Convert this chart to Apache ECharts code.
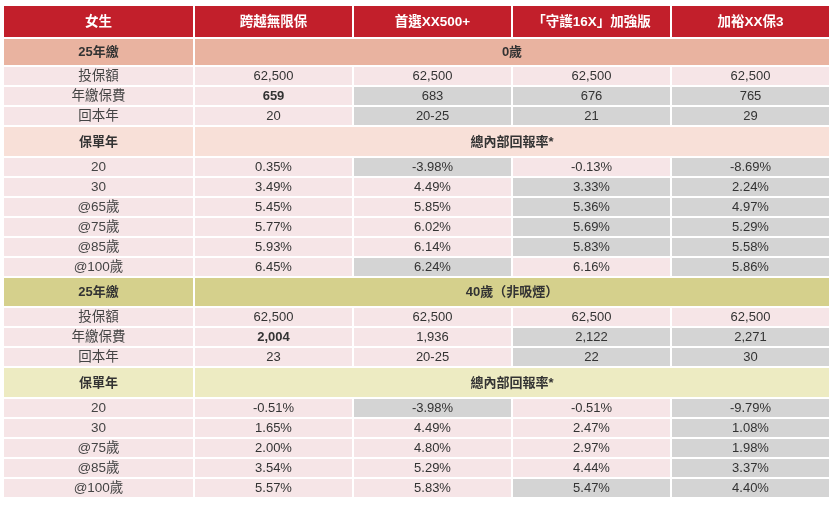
<!DOCTYPE html>
<html><head><meta charset="utf-8">
<script src="https://cdn.jsdelivr.net/npm/echarts@6/dist/echarts.min.js"></script>
<style>html,body{margin:0;padding:0;background:#fff}#c{width:832px;height:506px}</style>
</head><body><div id="c"></div>
<script>
// ---- data ----
const headers = ['女生','跨越無限保','首選XX500+','「守護16X」加強版','加裕XX保3'];
const payTerm = '25年繳';
const ageGroups = ['0歲','40歲（非吸煙）'];
const infoLabels = ['投保額','年繳保費','回本年'];
const irrTitle = '總內部回報率*';
const yearTitle = '保單年';
const info1 = [['62,500','62,500','62,500','62,500'],['659','683','676','765'],['20','20-25','21','29']];
const irrLabels1 = ['20','30','@65歲','@75歲','@85歲','@100歲'];
const irr1 = [['0.35%','-3.98%','-0.13%','-8.69%'],['3.49%','4.49%','3.33%','2.24%'],['5.45%','5.85%','5.36%','4.97%'],
              ['5.77%','6.02%','5.69%','5.29%'],['5.93%','6.14%','5.83%','5.58%'],['6.45%','6.24%','6.16%','5.86%']];
const info2 = [['62,500','62,500','62,500','62,500'],['2,004','1,936','2,122','2,271'],['23','20-25','22','30']];
const irrLabels2 = ['20','30','@75歲','@85歲','@100歲'];
const irr2 = [['-0.51%','-3.98%','-0.51%','-9.79%'],['1.65%','4.49%','2.47%','1.08%'],['2.00%','4.80%','2.97%','1.98%'],
              ['3.54%','5.29%','4.44%','3.37%'],['5.57%','5.83%','5.47%','4.40%']];
// grey (highlighted) cells: [row index in block, column 1..4]
const grey1Info = [[1,2],[1,3],[1,4],[2,2],[2,3],[2,4]];
const grey1Irr = [[0,2],[0,4],[1,3],[1,4],[2,3],[2,4],[3,3],[3,4],[4,3],[4,4],[5,2],[5,4]];
const grey2Info = [[1,3],[1,4],[2,3],[2,4]];
const grey2Irr = [[0,2],[0,4],[1,4],[2,4],[3,4],[4,3],[4,4]];
const boldCells = [['info1',1,1],['info2',1,1]];

// ---- layout (sizes only) ----
const colW = [191,159,159,159,159];
const H = {head:33, sec1:28, row:20, sub:31, sec2:30};
const C = {head:'#c21f2b', sec1:'#e9b3a0', sub1:'#f8e0d8', sec2:'#d5d08c', sub2:'#edebc2', cell:'#f6e5e7', grey:'#d4d4d4'};
const colX = [0]; colW.forEach(w=>colX.push(colX[colX.length-1]+w));
const cells = [];
let y = 0;
function add(c0,c1,h,fill,text,opt){ cells.push([colX[c0],colX[c1],y,y+h,fill,text,opt||{}]); }
function isIn(list,r,c){ return list.some(p=>p[0]===r&&p[1]===c); }
headers.forEach((t,i)=>add(i,i+1,H.head,C.head,t,{color:'#fff',size:13.5,bold:true})); y+=H.head;
function block(secH,age,subFill,secFill,info,gInfo,irrL,irr,gIrr,bkey){
  add(0,1,secH,secFill,payTerm,{bold:true}); add(1,5,secH,secFill,age,{bold:true}); y+=secH;
  infoLabels.forEach((l,r)=>{ add(0,1,H.row,C.cell,l,{color:'#444',size:13.5});
    for(let c=1;c<5;c++) add(c,c+1,H.row,isIn(gInfo,r,c)?C.grey:C.cell,info[r][c-1],{bold:boldCells.some(b=>b[0]===bkey&&b[1]===r&&b[2]===c)});
    y+=H.row; });
  add(0,1,H.sub,subFill,yearTitle,{bold:true}); add(1,5,H.sub,subFill,irrTitle,{bold:true}); y+=H.sub;
  irrL.forEach((l,r)=>{ add(0,1,H.row,C.cell,l,{color:'#444',size:13.5});
    for(let c=1;c<5;c++) add(c,c+1,H.row,isIn(gIrr,r,c)?C.grey:C.cell,irr[r][c-1],{});
    y+=H.row; });
}
block(H.sec1,ageGroups[0],C.sub1,C.sec1,info1,grey1Info,irrLabels1,irr1,grey1Irr,'info1');
block(H.sec2,ageGroups[1],C.sub2,C.sec2,info2,grey2Info,irrLabels2,irr2,grey2Irr,'info2');
const totalH = y, totalW = colX[5];

const chart = echarts.init(document.getElementById('c'));
chart.setOption({
  animation:false,
  grid:{left:3,right:2,top:5,bottom:506-5-totalH},
  xAxis:{type:'value',min:0,max:totalW,show:false},
  yAxis:{type:'value',min:0,max:totalH,inverse:true,show:false},
  series:[{type:'custom',data:cells.map((c,i)=>[c[0],c[1],c[2],c[3],i]),
    renderItem:function(params,api){
      const c = cells[api.value(4)];
      const p0 = api.coord([api.value(0),api.value(2)]);
      const p1 = api.coord([api.value(1),api.value(3)]);
      const o = c[6];
      return {type:'group',children:[
        {type:'rect',shape:{x:p0[0]+1,y:p0[1]+1,width:p1[0]-p0[0]-2,height:p1[1]-p0[1]-2},style:{fill:c[4]}},
        {type:'text',style:{x:(p0[0]+p1[0])/2,y:(p0[1]+p1[1])/2+0.5,text:c[5],align:'center',verticalAlign:'middle',
          fill:o.color||'#333',fontSize:o.size||13,fontWeight:o.bold?'bold':'normal',
          fontFamily:'"Liberation Sans Narrow","Liberation Sans","Noto Sans CJK TC",sans-serif'}}
      ]};
    }
  }]
});
</script></body></html>
